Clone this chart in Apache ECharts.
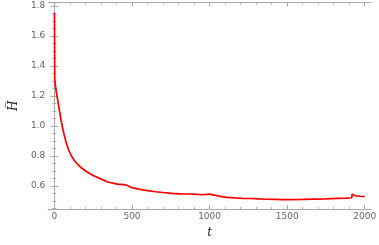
<!DOCTYPE html>
<html><head><meta charset="utf-8">
<script src="https://cdn.jsdelivr.net/npm/echarts@6/dist/echarts.min.js"></script>
<style>html,body{margin:0;padding:0;background:#fff}#c{width:379px;height:245px}</style>
</head><body><div id="c"></div>
<script>
// data
var tValues = [0, 1, 2, 10, 21, 31, 42, 52, 63, 73, 88, 104, 125, 145, 175, 208, 250, 291, 343, 405, 447, 470, 498, 550, 600, 654, 700, 758, 810, 862, 900, 955, 1000, 1028, 1060, 1111, 1160, 1215, 1260, 1290, 1319, 1370, 1422, 1470, 1516, 1600, 1672, 1750, 1820, 1880, 1917, 1918, 1922, 1941, 1970, 2000];
var hValues = [1.755, 1.55, 1.313, 1.24, 1.173, 1.11, 1.045, 0.99, 0.94, 0.9, 0.85, 0.81, 0.775, 0.75, 0.72, 0.695, 0.67, 0.651, 0.627, 0.613, 0.609, 0.604, 0.589, 0.578, 0.57, 0.562, 0.557, 0.551, 0.548, 0.547, 0.546, 0.542, 0.546, 0.54, 0.533, 0.525, 0.521, 0.518, 0.517, 0.516, 0.514, 0.512, 0.511, 0.510, 0.510, 0.511, 0.513, 0.515, 0.518, 0.520, 0.522, 0.545, 0.541, 0.535, 0.532, 0.529];
var xMajor = [0, 500, 1000, 1500, 2000];
var xMinor = [100, 200, 300, 400, 600, 700, 800, 900, 1100, 1200, 1300, 1400, 1600, 1700, 1800, 1900];
var yMajor = [0.6, 0.8, 1.0, 1.2, 1.4, 1.6, 1.8];
var yMinor = [0.45, 0.5, 0.55, 0.65, 0.7, 0.75, 0.85, 0.9, 0.95, 1.05, 1.1, 1.15, 1.25, 1.3, 1.35, 1.45, 1.5, 1.55, 1.65, 1.7, 1.75];
var xRange = [-40, 2040];
var yRange = [0.447, 1.823];

var axisColor = '#aaaaaa';
var labelStyle = {color: '#666', fontFamily: 'DejaVu Sans', fontSize: 9};
function xAx(pos, vals, len, labels, extra) {
  return Object.assign({
    type: 'value', position: pos, min: xRange[0], max: xRange[1],
    axisLine: {show: true, lineStyle: {color: axisColor, width: 1}},
    axisTick: {show: true, inside: true, length: len, customValues: vals, lineStyle: {color: axisColor}},
    axisLabel: labels ? Object.assign({show: true, margin: 3, customValues: vals, formatter: function(v){return String(v);}}, labelStyle) : {show: false},
    splitLine: {show: false}
  }, extra || {});
}
function yAx(pos, vals, len, labels, extra) {
  return Object.assign({
    type: 'value', position: pos, min: yRange[0], max: yRange[1],
    axisLine: {show: true, lineStyle: {color: axisColor, width: 1}},
    axisTick: {show: true, inside: true, length: len, customValues: vals, lineStyle: {color: axisColor}},
    axisLabel: labels ? Object.assign({show: true, margin: 3, customValues: vals, formatter: function(v){return v.toFixed(1);}}, labelStyle) : {show: false},
    splitLine: {show: false}
  }, extra || {});
}
var chart = echarts.init(document.getElementById('c'), null, {renderer: 'canvas'});
var pts = tValues.map(function(t, i){ return [t, hValues[i]]; });
chart.setOption({
  animation: false,
  grid: {left: 38, right: 6.5, top: 2.5, bottom: 36, containLabel: false},
  xAxis: [
    xAx('bottom', xMajor, 4, true, {name: 't', nameLocation: 'middle', nameGap: 18,
      nameTextStyle: {fontFamily: 'DejaVu Serif', fontStyle: 'italic', fontSize: 12, color: '#222'}}),
    xAx('bottom', xMinor, 2, false),
    xAx('top', xMajor, 4, false),
    xAx('top', xMinor, 2, false)
  ],
  yAxis: [
    yAx('left', yMajor, 4, true, {name: 'H\u0305', nameLocation: 'middle', nameGap: 28, nameRotate: 90,
      nameTextStyle: {fontFamily: 'DejaVu Serif', fontStyle: 'italic', fontSize: 12, color: '#222'}}),
    yAx('left', yMinor, 2, false),
    yAx('right', yMajor, 4, false),
    yAx('right', yMinor, 2, false)
  ],
  series: [{
    type: 'line', xAxisIndex: 0, yAxisIndex: 0, data: pts, showSymbol: false,
    lineStyle: {color: '#ff0000', width: 1.7}, smooth: false
  }]
});
</script></body></html>
